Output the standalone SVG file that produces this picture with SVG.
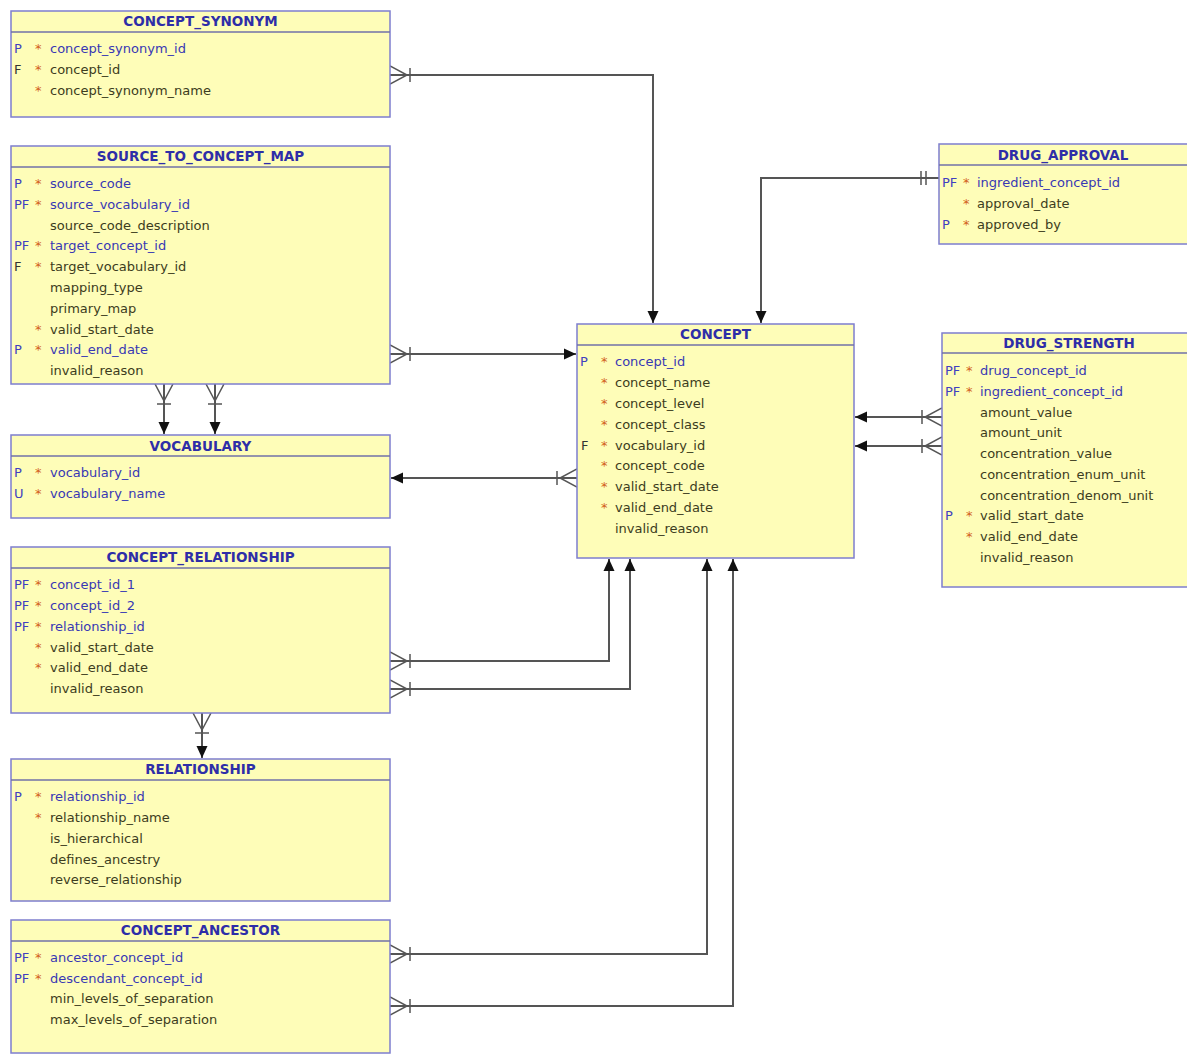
<svg xmlns="http://www.w3.org/2000/svg" width="1187" height="1055" viewBox="0 0 1187 1055">
<style>
.box{fill:#fefdb8;stroke:#7e7ece;stroke-width:1.5}
.dv{stroke:#7070a8;stroke-width:1.5}
.hdr{font-family:"DejaVu Sans",sans-serif;font-weight:bold;font-size:13.5px;fill:#2e2ea8;text-anchor:middle}
.r{font-family:"DejaVu Sans",sans-serif;font-size:13px}
.k{fill:#3838b4}
.n{fill:#3c3c20}
.a{fill:#d2601a}
.pk{fill:#4040c0}
.pf{fill:#333333}
.conn{stroke:#555555;stroke-width:2;fill:none}
.crowk{stroke:#555555;stroke-width:1.5;fill:none}
</style>
<defs>
<marker id="arrow" markerUnits="userSpaceOnUse" viewBox="0 0 12 12" refX="12" refY="6" markerWidth="12" markerHeight="12" orient="auto">
<path d="M0,0.5 L12,6 L0,11.5 z" fill="#111111"/>
</marker>
<marker id="crow" markerUnits="userSpaceOnUse" viewBox="0 -10 24 20" refX="0" refY="0" markerWidth="24" markerHeight="20" orient="auto">
<path class="crowk" d="M0,-9 L17,0 L0,9 M0,0 L17,0 M20,-7 L20,7"/>
</marker>
<marker id="one" markerUnits="userSpaceOnUse" viewBox="0 -10 24 20" refX="0" refY="0" markerWidth="24" markerHeight="20" orient="auto">
<path class="crowk" d="M13,-7 L13,7 M18,-7 L18,7"/>
</marker>
</defs>
<rect width="1187" height="1055" fill="#ffffff"/>

<g id="connectors">
<path class="conn" marker-start="url(#crow)" marker-end="url(#arrow)" d="M390,75 H653 V323"/>
<path class="conn" marker-start="url(#one)" marker-end="url(#arrow)" d="M939,178 H761 V323"/>
<path class="conn" marker-start="url(#crow)" marker-end="url(#arrow)" d="M390,354 H576"/>
<path class="conn" marker-start="url(#crow)" marker-end="url(#arrow)" d="M164,384 V434"/>
<path class="conn" marker-start="url(#crow)" marker-end="url(#arrow)" d="M215,384 V434"/>
<path class="conn" marker-start="url(#crow)" marker-end="url(#arrow)" d="M577,478 H391"/>
<path class="conn" marker-start="url(#crow)" marker-end="url(#arrow)" d="M942,417 H855"/>
<path class="conn" marker-start="url(#crow)" marker-end="url(#arrow)" d="M942,446 H855"/>
<path class="conn" marker-start="url(#crow)" marker-end="url(#arrow)" d="M390,661 H609 V559"/>
<path class="conn" marker-start="url(#crow)" marker-end="url(#arrow)" d="M390,689 H630 V559"/>
<path class="conn" marker-start="url(#crow)" marker-end="url(#arrow)" d="M202,713 V758"/>
<path class="conn" marker-start="url(#crow)" marker-end="url(#arrow)" d="M390,954 H707 V559"/>
<path class="conn" marker-start="url(#crow)" marker-end="url(#arrow)" d="M390,1006 H733 V559"/>
</g>

<g id="concept_synonym">
<rect class="box" x="11" y="11" width="379" height="106"/>
<line class="dv" x1="11" y1="32" x2="390" y2="32"/>
<text class="hdr" x="200.5" y="26">CONCEPT_SYNONYM</text>
<text class="r" y="52.5"><tspan class="pk" x="14">P</tspan><tspan class="a" x="35">*</tspan><tspan class="k" x="50">concept_synonym_id</tspan></text>
<text class="r" y="73.5"><tspan class="pf" x="14">F</tspan><tspan class="a" x="35">*</tspan><tspan class="n" x="50">concept_id</tspan></text>
<text class="r" y="94.5"><tspan class="a" x="35">*</tspan><tspan class="n" x="50">concept_synonym_name</tspan></text>
</g>

<g id="source_to_concept_map">
<rect class="box" x="11" y="146" width="379" height="238"/>
<line class="dv" x1="11" y1="167" x2="390" y2="167"/>
<text class="hdr" x="200.5" y="161">SOURCE_TO_CONCEPT_MAP</text>
<text class="r" y="188"><tspan class="pk" x="14">P</tspan><tspan class="a" x="35">*</tspan><tspan class="k" x="50">source_code</tspan></text>
<text class="r" y="208.8"><tspan class="pk" x="14">PF</tspan><tspan class="a" x="35">*</tspan><tspan class="k" x="50">source_vocabulary_id</tspan></text>
<text class="r" y="229.6"><tspan class="n" x="50">source_code_description</tspan></text>
<text class="r" y="250.4"><tspan class="pk" x="14">PF</tspan><tspan class="a" x="35">*</tspan><tspan class="k" x="50">target_concept_id</tspan></text>
<text class="r" y="271.2"><tspan class="pf" x="14">F</tspan><tspan class="a" x="35">*</tspan><tspan class="n" x="50">target_vocabulary_id</tspan></text>
<text class="r" y="292"><tspan class="n" x="50">mapping_type</tspan></text>
<text class="r" y="312.8"><tspan class="n" x="50">primary_map</tspan></text>
<text class="r" y="333.6"><tspan class="a" x="35">*</tspan><tspan class="n" x="50">valid_start_date</tspan></text>
<text class="r" y="354.4"><tspan class="pk" x="14">P</tspan><tspan class="a" x="35">*</tspan><tspan class="k" x="50">valid_end_date</tspan></text>
<text class="r" y="375.2"><tspan class="n" x="50">invalid_reason</tspan></text>
</g>

<g id="vocabulary">
<rect class="box" x="11" y="435" width="379" height="83"/>
<line class="dv" x1="11" y1="456" x2="390" y2="456"/>
<text class="hdr" x="200.5" y="450.5">VOCABULARY</text>
<text class="r" y="477"><tspan class="pk" x="14">P</tspan><tspan class="a" x="35">*</tspan><tspan class="k" x="50">vocabulary_id</tspan></text>
<text class="r" y="498"><tspan class="pk" x="14">U</tspan><tspan class="a" x="35">*</tspan><tspan class="k" x="50">vocabulary_name</tspan></text>
</g>

<g id="concept_relationship">
<rect class="box" x="11" y="547" width="379" height="166"/>
<line class="dv" x1="11" y1="568" x2="390" y2="568"/>
<text class="hdr" x="200.5" y="562">CONCEPT_RELATIONSHIP</text>
<text class="r" y="589"><tspan class="pk" x="14">PF</tspan><tspan class="a" x="35">*</tspan><tspan class="k" x="50">concept_id_1</tspan></text>
<text class="r" y="610"><tspan class="pk" x="14">PF</tspan><tspan class="a" x="35">*</tspan><tspan class="k" x="50">concept_id_2</tspan></text>
<text class="r" y="631"><tspan class="pk" x="14">PF</tspan><tspan class="a" x="35">*</tspan><tspan class="k" x="50">relationship_id</tspan></text>
<text class="r" y="651.5"><tspan class="a" x="35">*</tspan><tspan class="n" x="50">valid_start_date</tspan></text>
<text class="r" y="672"><tspan class="a" x="35">*</tspan><tspan class="n" x="50">valid_end_date</tspan></text>
<text class="r" y="693"><tspan class="n" x="50">invalid_reason</tspan></text>
</g>

<g id="relationship">
<rect class="box" x="11" y="759" width="379" height="142"/>
<line class="dv" x1="11" y1="780" x2="390" y2="780"/>
<text class="hdr" x="200.5" y="774">RELATIONSHIP</text>
<text class="r" y="801"><tspan class="pk" x="14">P</tspan><tspan class="a" x="35">*</tspan><tspan class="k" x="50">relationship_id</tspan></text>
<text class="r" y="822"><tspan class="a" x="35">*</tspan><tspan class="n" x="50">relationship_name</tspan></text>
<text class="r" y="843"><tspan class="n" x="50">is_hierarchical</tspan></text>
<text class="r" y="863.5"><tspan class="n" x="50">defines_ancestry</tspan></text>
<text class="r" y="884"><tspan class="n" x="50">reverse_relationship</tspan></text>
</g>

<g id="concept_ancestor">
<rect class="box" x="11" y="920" width="379" height="133"/>
<line class="dv" x1="11" y1="941" x2="390" y2="941"/>
<text class="hdr" x="200.5" y="935">CONCEPT_ANCESTOR</text>
<text class="r" y="962"><tspan class="pk" x="14">PF</tspan><tspan class="a" x="35">*</tspan><tspan class="k" x="50">ancestor_concept_id</tspan></text>
<text class="r" y="982.5"><tspan class="pk" x="14">PF</tspan><tspan class="a" x="35">*</tspan><tspan class="k" x="50">descendant_concept_id</tspan></text>
<text class="r" y="1003"><tspan class="n" x="50">min_levels_of_separation</tspan></text>
<text class="r" y="1024"><tspan class="n" x="50">max_levels_of_separation</tspan></text>
</g>

<g id="concept">
<rect class="box" x="577" y="324" width="277" height="234"/>
<line class="dv" x1="577" y1="345" x2="854" y2="345"/>
<text class="hdr" x="715.5" y="339">CONCEPT</text>
<text class="r" y="366"><tspan class="pk" x="580">P</tspan><tspan class="a" x="601">*</tspan><tspan class="k" x="615">concept_id</tspan></text>
<text class="r" y="387"><tspan class="a" x="601">*</tspan><tspan class="n" x="615">concept_name</tspan></text>
<text class="r" y="408"><tspan class="a" x="601">*</tspan><tspan class="n" x="615">concept_level</tspan></text>
<text class="r" y="429"><tspan class="a" x="601">*</tspan><tspan class="n" x="615">concept_class</tspan></text>
<text class="r" y="449.5"><tspan class="pf" x="581">F</tspan><tspan class="a" x="601">*</tspan><tspan class="n" x="615">vocabulary_id</tspan></text>
<text class="r" y="470"><tspan class="a" x="601">*</tspan><tspan class="n" x="615">concept_code</tspan></text>
<text class="r" y="491"><tspan class="a" x="601">*</tspan><tspan class="n" x="615">valid_start_date</tspan></text>
<text class="r" y="512"><tspan class="a" x="601">*</tspan><tspan class="n" x="615">valid_end_date</tspan></text>
<text class="r" y="532.5"><tspan class="n" x="615">invalid_reason</tspan></text>
</g>

<g id="drug_approval">
<rect class="box" x="939" y="144" width="260" height="100"/>
<line class="dv" x1="939" y1="165" x2="1199" y2="165"/>
<text class="hdr" x="1063" y="160">DRUG_APPROVAL</text>
<text class="r" y="187"><tspan class="pk" x="942">PF</tspan><tspan class="a" x="963">*</tspan><tspan class="k" x="977">ingredient_concept_id</tspan></text>
<text class="r" y="208"><tspan class="a" x="963">*</tspan><tspan class="n" x="977">approval_date</tspan></text>
<text class="r" y="229"><tspan class="pk" x="942">P</tspan><tspan class="a" x="963">*</tspan><tspan class="n" x="977">approved_by</tspan></text>
</g>

<g id="drug_strength">
<rect class="box" x="942" y="333" width="260" height="254"/>
<line class="dv" x1="942" y1="353" x2="1202" y2="353"/>
<text class="hdr" x="1069" y="348">DRUG_STRENGTH</text>
<text class="r" y="375"><tspan class="pk" x="945">PF</tspan><tspan class="a" x="966">*</tspan><tspan class="k" x="980">drug_concept_id</tspan></text>
<text class="r" y="396"><tspan class="pk" x="945">PF</tspan><tspan class="a" x="966">*</tspan><tspan class="k" x="980">ingredient_concept_id</tspan></text>
<text class="r" y="416.5"><tspan class="n" x="980">amount_value</tspan></text>
<text class="r" y="437"><tspan class="n" x="980">amount_unit</tspan></text>
<text class="r" y="458"><tspan class="n" x="980">concentration_value</tspan></text>
<text class="r" y="479"><tspan class="n" x="980">concentration_enum_unit</tspan></text>
<text class="r" y="499.5"><tspan class="n" x="980">concentration_denom_unit</tspan></text>
<text class="r" y="520"><tspan class="pk" x="945">P</tspan><tspan class="a" x="966">*</tspan><tspan class="n" x="980">valid_start_date</tspan></text>
<text class="r" y="541"><tspan class="a" x="966">*</tspan><tspan class="n" x="980">valid_end_date</tspan></text>
<text class="r" y="562"><tspan class="n" x="980">invalid_reason</tspan></text>
</g>
</svg>
